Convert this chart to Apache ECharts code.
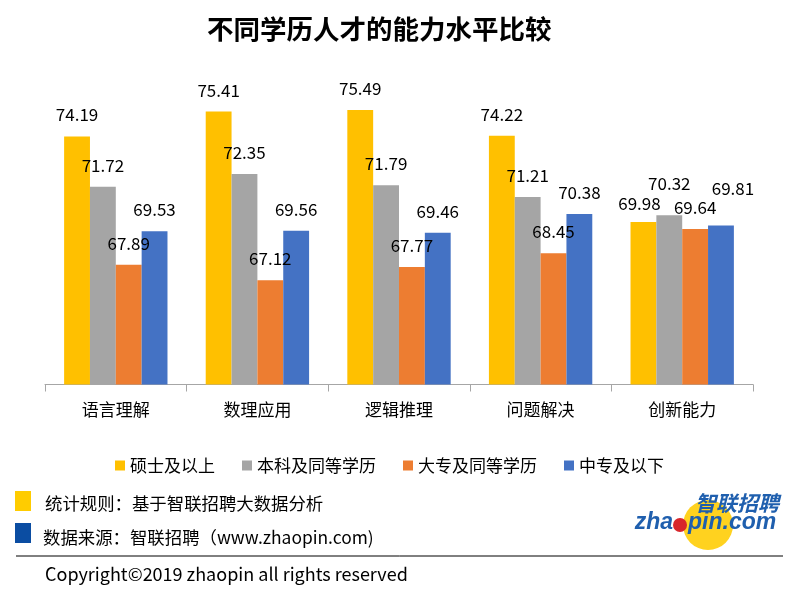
<!DOCTYPE html>
<html>
<head>
<meta charset="utf-8">
<script src="https://cdn.jsdelivr.net/npm/echarts@6/dist/echarts.min.js"></script>
<style>
html,body{margin:0;padding:0;background:#fff;}
#c{width:797px;height:599px;}
</style>
</head>
<body>
<div id="c"></div>
<script>
const titleText = '不同学历人才的能力水平比较';
const categories = ['语言理解', '数理应用', '逻辑推理', '问题解决', '创新能力'];
const seriesNames = ['硕士及以上', '本科及同等学历', '大专及同等学历', '中专及以下'];
const masterValues = [74.19, 75.41, 75.49, 74.22, 69.98];
const bachelorValues = [71.72, 72.35, 71.79, 71.21, 70.32];
const collegeValues = [67.89, 67.12, 67.77, 68.45, 69.64];
const secondaryValues = [69.53, 69.56, 69.46, 70.38, 69.81];
const footRule = '统计规则：基于智联招聘大数据分析';
const footSource = '数据来源：智联招聘（www.zhaopin.com)';
const copyright = 'Copyright©2019 zhaopin all rights reserved';

const colors = ['#FFC000', '#A5A5A5', '#ED7D31', '#4472C4'];
const allValues = [masterValues, bachelorValues, collegeValues, secondaryValues];
// manual label nudges (style only): key "series-category" -> [dx, dy]
const labelNudge = { '0-4': [-4, 3], '1-4': [0, -10], '3-4': [12, -16] };
const FONT = '"Noto Sans CJK SC", "Noto Sans", sans-serif';

const series = allValues.map((vals, si) => ({
  name: seriesNames[si],
  type: 'bar',
  barGap: '0%',
  barCategoryGap: '27%',
  itemStyle: { color: colors[si] },
  label: { show: true, position: 'top', distance: 13, fontSize: 17, color: '#000', fontFamily: FONT },
  data: vals.map((v, ci) => {
    const n = labelNudge[si + '-' + ci];
    return n ? { value: v, label: { offset: n } } : v;
  })
}));

const chart = echarts.init(document.getElementById('c'));
chart.setOption({
  backgroundColor: '#fff',
  animation: false,
  textStyle: { fontFamily: FONT },
  title: {
    text: titleText, left: 202, top: 11,
    textStyle: { fontSize: 26.5, fontWeight: 'bold', color: '#000', fontFamily: FONT }
  },
  legend: {
    data: seriesNames, top: 452, left: 110, itemWidth: 10, itemHeight: 10, itemGap: 27,
    icon: 'rect',
    textStyle: { fontSize: 17, color: '#000', fontFamily: FONT }
  },
  grid: { left: 45, right: 44, top: 99.6, bottom: 214.5, containLabel: false },
  xAxis: {
    type: 'category', data: categories,
    axisLine: { lineStyle: { color: '#A6A6A6', width: 1 } },
    axisTick: { show: true, length: 7, lineStyle: { color: '#A6A6A6' } },
    axisLabel: { fontSize: 17, color: '#000', margin: 17, fontFamily: FONT }
  },
  yAxis: {
    type: 'value', min: 62, max: 76, show: false,
    splitLine: { show: false }
  },
  series: series,
  graphic: [
    { type: 'rect', shape: { x: 15, y: 491, width: 16, height: 20 }, style: { fill: '#FFCC00' } },
    { type: 'text', x: 45, y: 503, style: { text: footRule, fill: '#000', font: '17.4px ' + FONT, textVerticalAlign: 'middle' } },
    { type: 'rect', shape: { x: 15, y: 523, width: 16, height: 20 }, style: { fill: '#0B4DA2' } },
    { type: 'text', x: 43, y: 537, style: { text: footSource, fill: '#000', font: '17.4px "Noto Sans CJK SC", "DejaVu Sans", sans-serif', textVerticalAlign: 'middle' } },
    { type: 'line', shape: { x1: 16, y1: 556, x2: 783, y2: 556 }, style: { stroke: '#000', lineWidth: 1 } },
    { type: 'text', x: 45, y: 574, style: { text: copyright, fill: '#000', font: '18px ' + FONT, textVerticalAlign: 'middle' } },
    { type: 'circle', shape: { cx: 708, cy: 525, r: 25 }, style: { fill: '#FFD21F' } },
    { type: 'text', x: 737, y: 503, style: { text: '智联招聘', fill: '#1F5FAE', font: 'italic bold 21px ' + FONT, textAlign: 'center', textVerticalAlign: 'middle' } },
    { type: 'text', x: 673, y: 523, style: { text: 'zha', fill: '#1F5FAE', font: 'italic bold 23px "Liberation Sans", Arial, sans-serif', textAlign: 'right', textVerticalAlign: 'middle' } },
    { type: 'text', x: 688, y: 523, style: { text: 'pin.com', fill: '#1F5FAE', font: 'italic bold 23px "Liberation Sans", Arial, sans-serif', textAlign: 'left', textVerticalAlign: 'middle' } },
    { type: 'circle', shape: { cx: 680, cy: 525, r: 7 }, style: { fill: '#D8262B' } }
  ]
});
</script>
</body>
</html>
